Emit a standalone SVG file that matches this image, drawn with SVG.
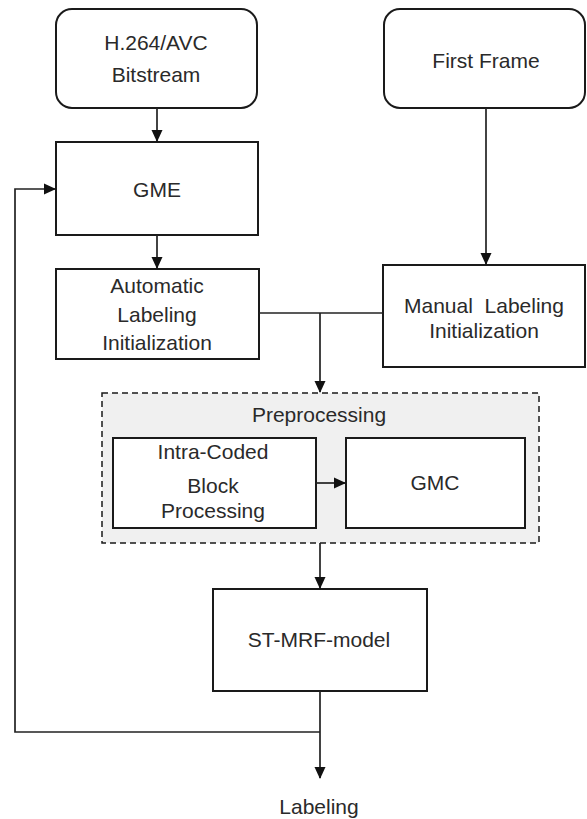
<svg xmlns="http://www.w3.org/2000/svg" width="587" height="819" viewBox="0 0 587 819">
  <defs>
    <marker id="arrow" viewBox="0 0 12 12" markerWidth="12" markerHeight="12" refX="11" refY="6" orient="auto" markerUnits="userSpaceOnUse">
      <path d="M0,0.5 L12,6 L0,11.5 Z" fill="#111"/>
    </marker>
  </defs>
  <style>
    .box { fill: #fff; stroke: #1a1a1a; stroke-width: 2; }
    .group { fill: #f0f0f0; stroke: #1a1a1a; stroke-width: 1.5; stroke-dasharray: 6 4; }
    .edge { fill: none; stroke: #222; stroke-width: 1.7; }
    text { font-family: "Liberation Sans", Arial, sans-serif; font-size: 21px; fill: #2a2a2a; text-anchor: middle; }
  </style>
  <rect width="587" height="819" fill="#fff"/>

  <!-- preprocessing container -->
  <g id="preprocessing">
    <rect class="group" x="102" y="393" width="437" height="150"/>
    <text x="319" y="422">Preprocessing</text>
  </g>

  <!-- nodes -->
  <g id="bitstream">
    <rect class="box" x="56" y="9" width="201" height="99" rx="16"/>
    <text x="156" y="50">H.264/AVC</text>
    <text x="156" y="82">Bitstream</text>
  </g>
  <g id="first-frame">
    <rect class="box" x="384" y="9" width="201" height="99" rx="16"/>
    <text x="486" y="68">First Frame</text>
  </g>
  <g id="gme">
    <rect class="box" x="56" y="142" width="202" height="93"/>
    <text x="157" y="197">GME</text>
  </g>
  <g id="auto-init">
    <rect class="box" x="56" y="269" width="203" height="90"/>
    <text x="157" y="293">Automatic</text>
    <text x="157" y="322">Labeling</text>
    <text x="157" y="350">Initialization</text>
  </g>
  <g id="manual-init">
    <rect class="box" x="383" y="265" width="202" height="102"/>
    <text x="484" y="313" xml:space="preserve">Manual  Labeling</text>
    <text x="484" y="338">Initialization</text>
  </g>
  <g id="intra-coded">
    <rect class="box" x="113" y="438" width="203" height="90"/>
    <text x="213" y="459">Intra-Coded</text>
    <text x="213" y="493">Block</text>
    <text x="213" y="518">Processing</text>
  </g>
  <g id="gmc">
    <rect class="box" x="346" y="438" width="179" height="90"/>
    <text x="435" y="490">GMC</text>
  </g>
  <g id="st-mrf">
    <rect class="box" x="213" y="589" width="214" height="102"/>
    <text x="319" y="647">ST-MRF-model</text>
  </g>
  <g id="labeling">
    <text x="319" y="814">Labeling</text>
  </g>

  <!-- connectors -->
  <g id="connectors">
    <path class="edge" d="M157,108 V141" marker-end="url(#arrow)"/>
    <path class="edge" d="M157,235 V268" marker-end="url(#arrow)"/>
    <path class="edge" d="M486,108 V264" marker-end="url(#arrow)"/>
    <path class="edge" d="M259,313 H383"/>
    <path class="edge" d="M320,313 V392" marker-end="url(#arrow)"/>
    <path class="edge" d="M316,483 H345" marker-end="url(#arrow)"/>
    <path class="edge" d="M320,543 V588" marker-end="url(#arrow)"/>
    <path class="edge" d="M320,691 V778" marker-end="url(#arrow)"/>
    <path class="edge" d="M320,732 H15 V189 H55" marker-end="url(#arrow)"/>
  </g>
</svg>
